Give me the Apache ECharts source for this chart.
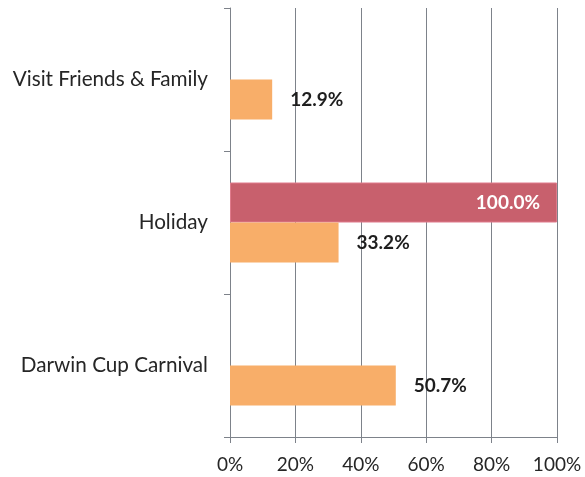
<!DOCTYPE html>
<html>
<head>
<meta charset="utf-8">
<script src="https://cdn.jsdelivr.net/npm/echarts@6/dist/echarts.min.js"></script>
<style>
  html, body { margin: 0; padding: 0; background: #fff; }
  #chart { width: 585px; height: 477px; }
</style>
</head>
<body>
<div id="chart"></div>
<script>
// Reasons for visiting, bottom to top
const categories = ['Darwin Cup Carnival', 'Holiday', 'Visit Friends & Family'];
// Share of responses (%), two groups
const redValues = [null, 100.0, null];
const orangeValues = [50.7, 33.2, 12.9];
const xTicks = [0, 20, 40, 60, 80, 100];

const FONT = 'Lato';

const chart = echarts.init(document.getElementById('chart'));
chart.setOption({
  animation: false,
  backgroundColor: '#ffffff',
  grid: { left: 230, right: 28, top: 8, bottom: 40 },
  xAxis: {
    type: 'value',
    min: xTicks[0],
    max: xTicks[xTicks.length - 1],
    interval: xTicks[1] - xTicks[0],
    axisLine: { show: true, lineStyle: { color: '#7d828a', width: 1 } },
    axisTick: { show: true, length: 6, lineStyle: { color: '#7d828a' } },
    splitLine: { show: true, lineStyle: { color: '#7d828a', width: 1 } },
    axisLabel: {
      formatter: v => v + '%',
      fontFamily: FONT, fontSize: 19, color: '#262626', margin: 18
    }
  },
  yAxis: {
    type: 'category',
    data: categories,
    axisLine: { show: true, lineStyle: { color: '#7d828a', width: 1 } },
    axisTick: { show: true, length: 6, lineStyle: { color: '#7d828a' } },
    axisLabel: { fontFamily: FONT, fontSize: 20.7, color: '#262626', margin: 22 }
  },
  series: [
    {
      type: 'bar',
      data: redValues,
      barWidth: 40,
      barGap: '0%',
      itemStyle: { color: '#c8606d', borderColor: '#e07b8c', borderWidth: 1 },
      label: {
        show: true, position: 'insideRight', distance: 17,
        formatter: p => p.value.toFixed(1) + '%',
        fontFamily: FONT, fontSize: 19, fontWeight: 'bold', color: '#ffffff'
      }
    },
    {
      type: 'bar',
      data: orangeValues,
      barWidth: 40,
      barGap: '0%',
      itemStyle: { color: '#f8ae69' },
      label: {
        show: true, position: 'right', distance: 18,
        formatter: p => p.value.toFixed(1) + '%',
        fontFamily: FONT, fontSize: 19, fontWeight: 'bold', color: '#1e1e1e'
      }
    }
  ]
});
</script>
</body>
</html>
